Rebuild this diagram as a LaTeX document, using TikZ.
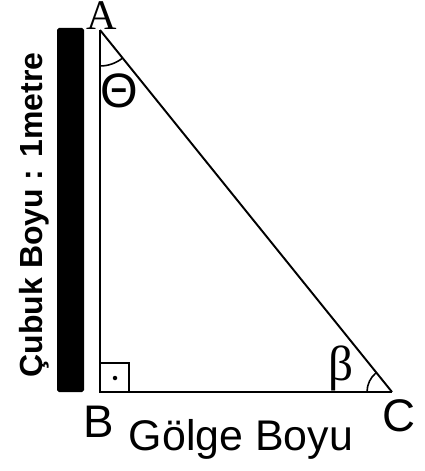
\documentclass[tikz,border=0pt]{standalone}
\usepackage{fontspec}
\setmainfont{Liberation Sans}
\newfontfamily\timesfont{Liberation Serif}
\begin{document}
\begin{tikzpicture}[every node/.style={inner sep=0pt},
    side/.style={line width=1.1pt},
    tri/.style={font=\fontsize{26}{30}\selectfont, anchor=base}]
      \useasboundingbox (0,0) rectangle (8.5,-9.42);

      \coordinate (A) at (2.0,-0.6);
      \coordinate (B) at (2.0,-7.84);
      \coordinate (C) at (7.84,-7.84);

      \node[font=\timesfont\fontsize{24}{28}\selectfont, anchor=base] (lA) at (2.04,-0.6) {A};
      \node[tri] (lB) at (1.98,-8.74) {B};
      \node[tri] (lC) at (7.98,-8.63) {C};
      \node[font=\fontsize{24.4}{28}\selectfont, anchor=base] (golge) at (4.82,-9.0) {Gölge Boyu};
      \node[font=\bfseries\fontsize{18.2}{22}\selectfont, anchor=base, rotate=90] (cubuk) at (0.84,-4.3) {Çubuk Boyu : 1metre};

      \node[font=\fontsize{27.5}{30}\selectfont] (theta) at (2.39,-1.82) {Θ};
      \node[font=\timesfont\fontsize{28}{30}\selectfont] (beta) at (6.83,-7.36) {β};

      \fill[rounded corners=1pt] (1.14,-0.56) rectangle (1.68,-7.84);

      \draw[side] (A) -- (B);
      \draw[side] (B) -- (C);
      \draw[side] (C) -- (A);

      \draw[side] (B) rectangle ++(0.58,0.58);
      \fill (2.3,-7.56) circle (0.045);

      \draw[line width=0.9pt] ([yshift=-0.72cm]A) arc[start angle=-90, end angle=-51.1, radius=0.72];
      \draw[line width=0.9pt] ([xshift=-0.5cm]C) arc[start angle=180, end angle=128.9, radius=0.5];
    \end{tikzpicture}
\end{document}
